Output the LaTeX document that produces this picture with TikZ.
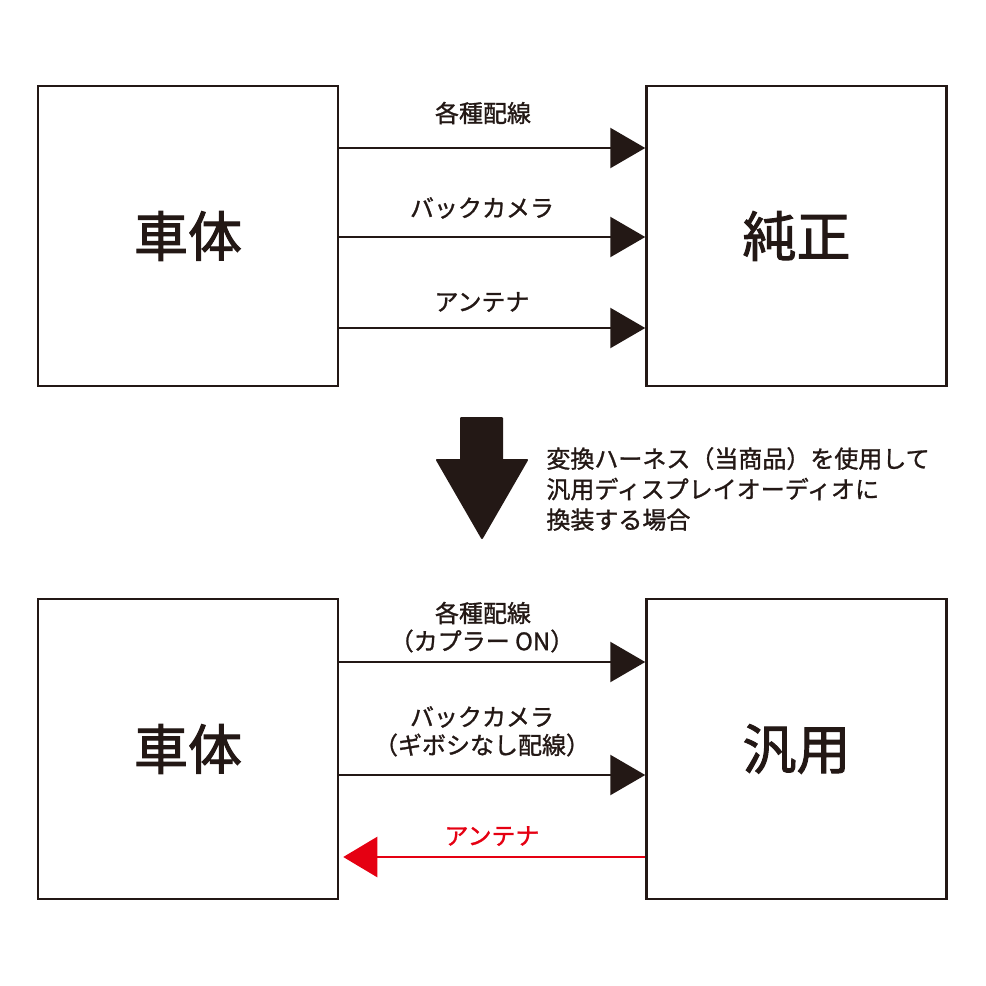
\documentclass[tikz,border=0pt]{standalone}
\usepackage{fontspec}
\setmainfont{Noto Sans CJK JP}
\newfontfamily\medfont{Noto Sans CJK JP}[RawFeature={embolden=1.2}]
\newfontfamily\bigfont{Noto Sans CJK JP}[RawFeature={embolden=1.8}]
\usetikzlibrary{arrows.meta}
\definecolor{ink}{HTML}{231815}
\definecolor{redink}{HTML}{E50012}
\tikzset{
  px/.style={x=0.5pt,y=-0.5pt},
  blockbox/.style={draw=ink,line width=1.25pt,minimum width=150pt,minimum height=150pt,inner sep=0pt,font=\bigfont\fontsize{27pt}{30pt}\selectfont,text=ink},
  wire/.style={draw=ink,line width=1.25pt,-{Triangle[length=17.5pt,width=20pt]}},
  redwire/.style={draw=redink,line width=1.25pt,-{Triangle[length=17pt,width=20pt]}},
  lbl/.style={font=\medfont\fontsize{12pt}{14pt}\selectfont,text=ink,inner sep=0pt},
  redlbl/.style={lbl,text=redink},
  note/.style={font=\medfont\fontsize{12pt}{15.25pt}\selectfont,text=ink,inner sep=0pt,align=left,anchor=west}
}
\begin{document}
\begin{tikzpicture}[px]
\useasboundingbox (0,0) rectangle (986,986);
% top row
\node[blockbox] (A) at (188,236) {車体};
\node[blockbox] (B) at (796.5,236) {純正};
\draw[wire] ([yshift=44pt]A.east) -- ([yshift=44pt]B.west);
\draw[wire] ([yshift=-0.5pt]A.east) -- ([yshift=-0.5pt]B.west);
\draw[wire] ([yshift=-46pt]A.east) -- ([yshift=-46pt]B.west);
\node[lbl] (t1) at (483,113) {各種配線};
\node[lbl] (t2) at (482,208) {バックカメラ};
\node[lbl] (t3) at (482,302) {アンテナ};
% big arrow
\fill[ink,line join=round,draw=ink,line width=1pt] (461,418) -- (502,418) -- (502,460) -- (527,460) -- (482,538) -- (437,460) -- (461,460) -- cycle;
\node[note] (n) at (546,489) {変換ハーネス（当商品）を使用して\\汎用ディスプレイオーディオに\\換装する場合};
% bottom row
\node[blockbox] (C) at (188,749) {車体};
\node[blockbox] (D) at (796.5,749) {汎用};
\draw[wire] ([yshift=43.5pt]C.east) -- ([yshift=43.5pt]D.west);
\draw[wire] ([yshift=-13pt]C.east) -- ([yshift=-13pt]D.west);
\draw[redwire] ([yshift=-54pt]D.west) -- ([yshift=-54pt,xshift=2pt]C.east);
\node[lbl] (b1) at (483,613) {各種配線};
\node[lbl] (b2) at (482,641) {（カプラー ON）};
\node[lbl] (b3) at (482,717) {バックカメラ};
\node[lbl] (b4) at (482,745) {（ギボシなし配線）};
\node[redlbl] (b5) at (492,836) {アンテナ};
\end{tikzpicture}
\end{document}
